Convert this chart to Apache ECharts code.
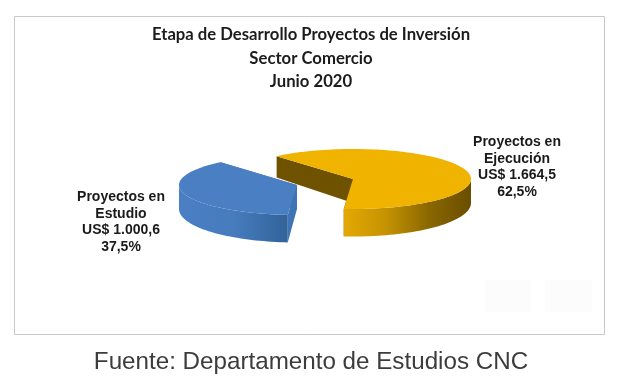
<!DOCTYPE html>
<html><head><meta charset="utf-8">
<style>html,body{margin:0;padding:0;background:#fff}#c{width:640px;height:390px}</style>
<script src="https://cdn.jsdelivr.net/npm/echarts@6/dist/echarts.min.js"></script>
</head><body><div id="c"></div>
<script>
const categories = ['Proyectos en\nEstudio', 'Proyectos en\nEjecución'];
const amounts = [1000.6, 1664.5];
const amountLabels = ['US$ 1.000,6', 'US$ 1.664,5'];
const shareLabels = ['37,5%', '62,5%'];
const titleLines = ['Etapa de Desarrollo Proyectos de Inversión', 'Sector Comercio', 'Junio 2020'];
const sourceNote = 'Fuente: Departamento de Estudios CNC';

const total = amounts.reduce((a, b) => a + b, 0);
const RX = 118, RY = 30, START = -94.5;
const slices = [
  {cx: 297, cy: 185, top: '#4a80c3', wall: '#3f74b5',
   side: ['#4a80c3', '#467cbe', '#326399'], lx: 121, ly: 222},
  {cx: 353, cy: 179, top: '#efb300', wall: '#6e5200',
   side: ['#e3a802', '#c59302', '#8a6700', '#6a4e00'], lx: 517, ly: 167}
];
const depth = dy => 24 + 3.5 * dy / RY;

function renderItem(params, api) {
  const i = params.dataIndex, s = slices[i];
  let a0 = START;
  for (let k = 0; k < i; k++) a0 -= amounts[k] / total * 360;
  const a1 = a0 - amounts[i] / total * 360;
  const pt = a => [s.cx + RX * Math.cos(a * Math.PI / 180), s.cy - RY * Math.sin(a * Math.PI / 180)];
  const arc = [];
  for (let a = a0; a >= a1; a -= 2) arc.push([a, pt(a)]);
  arc.push([a1, pt(a1)]);
  const topPts = [[s.cx, s.cy]].concat(arc.map(p => p[1]));
  const front = arc.filter(p => Math.sin(p[0] * Math.PI / 180) <= 0.01).map(p => p[1]);
  const sidePts = front.concat(front.slice().reverse().map(p => [p[0], p[1] + depth(p[1] - s.cy)]));
  const d0 = depth(0), P0 = pt(a0), P1 = pt(a1);
  const wallOf = P => [[s.cx, s.cy], P, [P[0], P[1] + depth(P[1] - s.cy)], [s.cx, s.cy + d0]];
  const stops = s.side.map((c, n) => ({offset: n / (s.side.length - 1), color: c}));
  const poly = (points, fill) => ({type: 'polygon', shape: {points}, style: {fill, stroke: 'none'}});
  const grad = {type: 'linear', x: 0, y: 0, x2: 1, y2: 0, colorStops: stops};
  const children = [
    poly(wallOf(P0), s.wall), poly(wallOf(P1), s.wall),
    poly(sidePts, grad),
    poly(topPts, s.top),
    {type: 'text', style: {
      x: s.lx, y: s.ly, align: 'center', verticalAlign: 'middle',
      text: categories[i] + '\n' + amountLabels[i] + '\n' + shareLabels[i],
      font: 'bold 14px "Liberation Sans", Arial, sans-serif', lineHeight: 16.5, fill: '#1a1a1a'
    }}
  ];
  return {type: 'group', children};
}

const chart = echarts.init(document.getElementById('c'), null, {renderer: 'canvas'});
chart.setOption({
  animation: false,
  backgroundColor: '#fff',
  title: {
    text: titleLines.join('\n'), left: 306, top: 18, textAlign: 'center',
    textStyle: {fontFamily: 'Lato', fontWeight: 'bold', fontSize: 16.7, lineHeight: 23.5, color: '#1c1c1c'}
  },
  graphic: [
    {type: 'rect', shape: {x: 14.5, y: 16.5, width: 590, height: 318}, style: {fill: 'none', stroke: '#c8c8c8', lineWidth: 1}, z: -1},
    {type: 'rect', shape: {x: 485, y: 280, width: 46, height: 32}, style: {fill: '#fcfcfc'}, z: -1},
    {type: 'rect', shape: {x: 545, y: 280, width: 47, height: 32}, style: {fill: '#fcfcfc'}, z: -1},
    {type: 'text', style: {x: 311, y: 362, align: 'center', verticalAlign: 'middle', text: sourceNote,
      font: '24.2px "Liberation Sans", Arial, sans-serif', fill: '#3c3c3c'}}
  ],
  series: [{type: 'custom', coordinateSystem: 'none', data: amounts, renderItem}]
});
</script></body></html>
